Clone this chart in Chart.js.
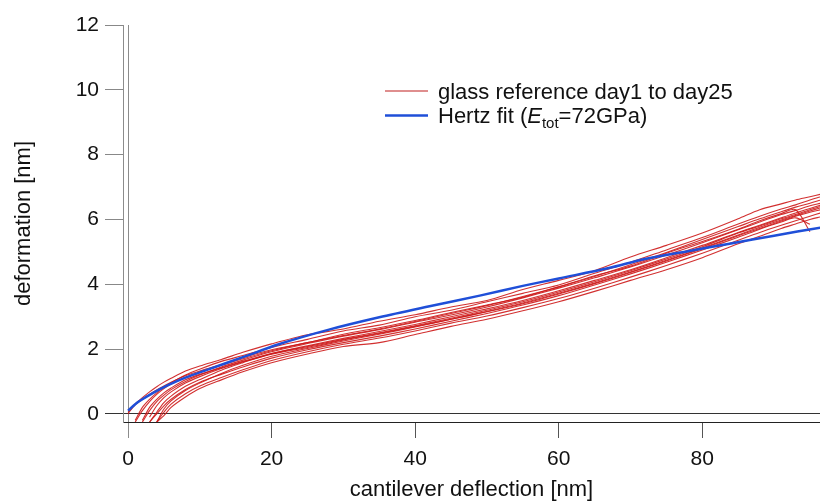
<!DOCTYPE html>
<html>
<head>
<meta charset="utf-8">
<script src="https://cdn.jsdelivr.net/npm/chart.js@4.4.1/dist/chart.umd.min.js"></script>
<style>
  html, body { margin: 0; padding: 0; background: #fff; }
  #wrap { width: 820px; height: 504px; position: relative; }
</style>
</head>
<body>
<div id="wrap"><canvas id="chart"></canvas></div>
<script>
// tick labels
const xTicks = [0, 20, 40, 60, 80];
const yTicks = [0, 2, 4, 6, 8, 10, 12];

// Hertz fit (blue)
const fitX = [0, 1, 2, 3.5, 5.5, 8, 11, 16, 21, 28, 35, 42, 49, 55, 60, 67, 72, 78, 84, 90, 96.5];
const fitY = [0.1, 0.3, 0.45, 0.65, 0.88, 1.12, 1.36, 1.75, 2.15, 2.6, 2.98, 3.32, 3.65, 3.95, 4.18, 4.5, 4.78, 5.02, 5.26, 5.5, 5.75];

// glass reference curves, common deflection grid
const refX = [0, 1, 2, 3, 4, 5, 6, 8, 10, 13, 16, 20, 25, 30, 35, 40, 45, 50, 55, 60, 65, 70, 75, 80, 85, 88, 91, 93, 95, 96.5];
const day01 = [0.0, 0.3, 0.5, 0.68, 0.84, 0.98, 1.1, 1.32, 1.48, 1.68, 1.9, 2.16, 2.44, 2.62, 2.86, 3.06, 3.3, 3.5, 3.84, 4.12, 4.42, 4.84, 5.2, 5.58, 6.02, 6.3, 6.48, 6.6, 6.7, 6.78];
const day03 = [null, -0.2, 0.2, 0.45, 0.65, 0.82, 0.96, 1.2, 1.38, 1.62, 1.8, 2.05, 2.3, 2.56, 2.74, 3.0, 3.2, 3.46, 3.72, 3.98, 4.34, 4.68, 5.06, 5.44, 5.86, 6.1, 6.32, 6.45, 6.6, 6.7];
const day05 = [0.05, 0.28, 0.45, 0.6, 0.74, 0.86, 0.98, 1.18, 1.32, 1.52, 1.74, 1.98, 2.2, 2.46, 2.66, 2.88, 3.13, 3.36, 3.6, 3.92, 4.26, 4.56, 4.96, 5.32, 5.7, 5.96, 6.18, 6.3, 5.62, null];
const day07 = [null, null, -0.25, 0.1, 0.38, 0.58, 0.75, 1.0, 1.2, 1.45, 1.66, 1.92, 2.17, 2.4, 2.6, 2.83, 3.05, 3.3, 3.58, 3.88, 4.2, 4.53, 4.9, 5.28, 5.68, 5.92, 6.15, 6.28, 6.42, 6.5];
const day09 = [null, null, null, -0.25, 0.05, 0.35, 0.55, 0.85, 1.06, 1.35, 1.58, 1.86, 2.1, 2.33, 2.54, 2.76, 3.0, 3.24, 3.5, 3.8, 4.12, 4.45, 4.82, 5.2, 5.6, 5.82, 6.05, 6.2, 6.34, 6.44];
const day11 = [null, null, null, null, -0.25, 0.15, 0.4, 0.72, 0.95, 1.25, 1.5, 1.78, 2.02, 2.25, 2.46, 2.68, 2.92, 3.16, 3.42, 3.72, 4.04, 4.38, 4.74, 5.12, 5.52, 5.76, 5.98, 6.12, 6.26, 6.36];
const day13 = [null, null, null, -0.25, 0.0, 0.25, 0.45, 0.75, 0.98, 1.22, 1.45, 1.72, 1.98, 2.2, 2.4, 2.62, 2.86, 3.1, 3.36, 3.65, 3.98, 4.32, 4.68, 5.06, 5.45, 5.7, 5.92, 6.05, 5.85, null];
const day15 = [null, null, null, null, -0.25, 0.05, 0.3, 0.62, 0.86, 1.12, 1.36, 1.65, 1.92, 2.15, 2.34, 2.56, 2.8, 3.02, 3.28, 3.56, 3.88, 4.22, 4.58, 4.96, 5.36, 5.6, 5.82, 5.96, 6.1, 6.2];
const day18 = [null, null, null, null, -0.25, -0.05, 0.2, 0.52, 0.78, 1.05, 1.3, 1.58, 1.85, 2.08, 2.2, 2.45, 2.7, 2.92, 3.18, 3.46, 3.78, 4.12, 4.45, 4.82, 5.25, 5.48, 5.72, 5.86, 6.0, 6.08];
const day20 = [null, -0.25, 0.1, 0.38, 0.6, 0.78, 0.92, 1.12, 1.28, 1.5, 1.7, 1.95, 2.2, 2.42, 2.62, 2.85, 3.1, 3.34, 3.62, 3.92, 4.24, 4.6, 4.98, 5.38, 5.78, 6.02, 6.24, 6.38, 6.5, 6.6];
const day22 = [null, null, -0.2, 0.2, 0.45, 0.65, 0.8, 1.05, 1.22, 1.42, 1.62, 1.86, 2.08, 2.3, 2.5, 2.72, 2.95, 3.2, 3.46, 3.76, 4.08, 4.42, 4.78, 5.16, 5.58, 5.8, 6.02, 6.15, 6.3, 6.4];
const day25 = [null, null, null, -0.1, 0.25, 0.5, 0.68, 0.95, 1.15, 1.4, 1.6, 1.84, 2.05, 2.28, 2.48, 2.7, 2.92, 3.15, 3.4, 3.7, 4.02, 4.36, 4.72, 5.1, 5.5, 5.72, 5.95, 6.1, 6.22, 6.3];

const refCurves = [day01, day03, day05, day07, day09, day11, day13, day15, day18, day20, day22, day25];

const RED = 'rgba(205, 25, 25, 0.9)';
const BLUE = '#1f4fd8';
const FONT = '"Liberation Sans", Arial, sans-serif';

function toPoints(xs, ys) {
    const pts = [];
    xs.forEach((x, i) => {
        if (ys[i] !== null && ys[i] !== undefined) pts.push({ x: x, y: ys[i] });
    });
    return pts;
}

const datasets = refCurves.map(ys => ({
    data: toPoints(refX, ys),
    borderColor: RED,
    borderWidth: 1.1,
    pointRadius: 0,
    tension: 0.3,
    order: 1
}));
datasets.push({
    data: toPoints(fitX, fitY),
    borderColor: BLUE,
    borderWidth: 2.5,
    pointRadius: 0,
    tension: 0.3,
    order: 0
});

// legend with italic E and subscript "tot"
const legendPlugin = {
    id: 'customLegend',
    afterDraw(chart) {
        const ctx = chart.ctx;
        ctx.save();
        ctx.lineWidth = 1.5;
        ctx.strokeStyle = '#d46868';
        ctx.beginPath();
        ctx.moveTo(385, 91);
        ctx.lineTo(428, 91);
        ctx.stroke();
        ctx.lineWidth = 2.5;
        ctx.strokeStyle = BLUE;
        ctx.beginPath();
        ctx.moveTo(385, 115.5);
        ctx.lineTo(428, 115.5);
        ctx.stroke();

        ctx.fillStyle = '#111';
        ctx.textBaseline = 'alphabetic';
        ctx.textAlign = 'left';
        ctx.font = '22px ' + FONT;
        ctx.fillText('glass reference day1 to day25', 438, 99);

        let x = 438;
        const y = 123;
        ctx.fillText('Hertz fit (', x, y);
        x += ctx.measureText('Hertz fit (').width;
        ctx.font = 'italic 22px ' + FONT;
        ctx.fillText('E', x, y);
        x += ctx.measureText('E').width;
        ctx.font = '15px ' + FONT;
        ctx.fillText('tot', x, y + 5);
        x += ctx.measureText('tot').width;
        ctx.font = '22px ' + FONT;
        ctx.fillText('=72GPa)', x, y);
        ctx.restore();
    }
};

new Chart(document.getElementById('chart').getContext('2d'), {
    type: 'line',
    data: { datasets: datasets },
    options: {
        responsive: true,
        maintainAspectRatio: false,
        animation: false,
        layout: { autoPadding: false, padding: { top: 25, left: 0, right: 0, bottom: 0 } },
        plugins: {
            legend: { display: false },
            tooltip: { enabled: false }
        },
        scales: {
            x: {
                type: 'linear',
                min: -0.7,
                max: 96.4,
                afterBuildTicks: s => { s.ticks = xTicks.map(v => ({ value: v })); },
                afterFit: s => { s.height = 82; },
                border: { display: true, color: '#222', width: 1 },
                grid: {
                    color: c => (c.tick && c.tick.value === 0) ? '#8c8c8c' : 'rgba(0,0,0,0)',
                    tickColor: c => (c.tick && c.tick.value === 0) ? '#8c8c8c' : '#555',
                    tickLength: 16
                },
                ticks: {
                    color: '#111',
                    font: { family: FONT, size: 21 },
                    padding: 9,
                    maxRotation: 0
                },
                title: {
                    display: true,
                    text: 'cantilever deflection [nm]',
                    color: '#111',
                    font: { family: FONT, size: 22 },
                    padding: { top: 0, bottom: 1 }
                }
            },
            y: {
                type: 'linear',
                min: -0.25,
                max: 12,
                afterBuildTicks: s => { s.ticks = yTicks.map(v => ({ value: v })); },
                afterFit: s => { s.width = 123; },
                border: { display: true, color: '#8c8c8c', width: 1 },
                grid: {
                    color: c => (c.tick && c.tick.value === 0) ? '#333' : 'rgba(0,0,0,0)',
                    tickColor: c => (c.tick && c.tick.value === 0) ? '#333' : '#888',
                    tickLength: 18
                },
                ticks: {
                    color: '#111',
                    font: { family: FONT, size: 21 },
                    padding: 6
                },
                title: {
                    display: true,
                    text: 'deformation [nm]',
                    color: '#111',
                    font: { family: FONT, size: 22 },
                    padding: { top: 11, bottom: 0 }
                }
            }
        }
    },
    plugins: [legendPlugin]
});
</script>
</body>
</html>
